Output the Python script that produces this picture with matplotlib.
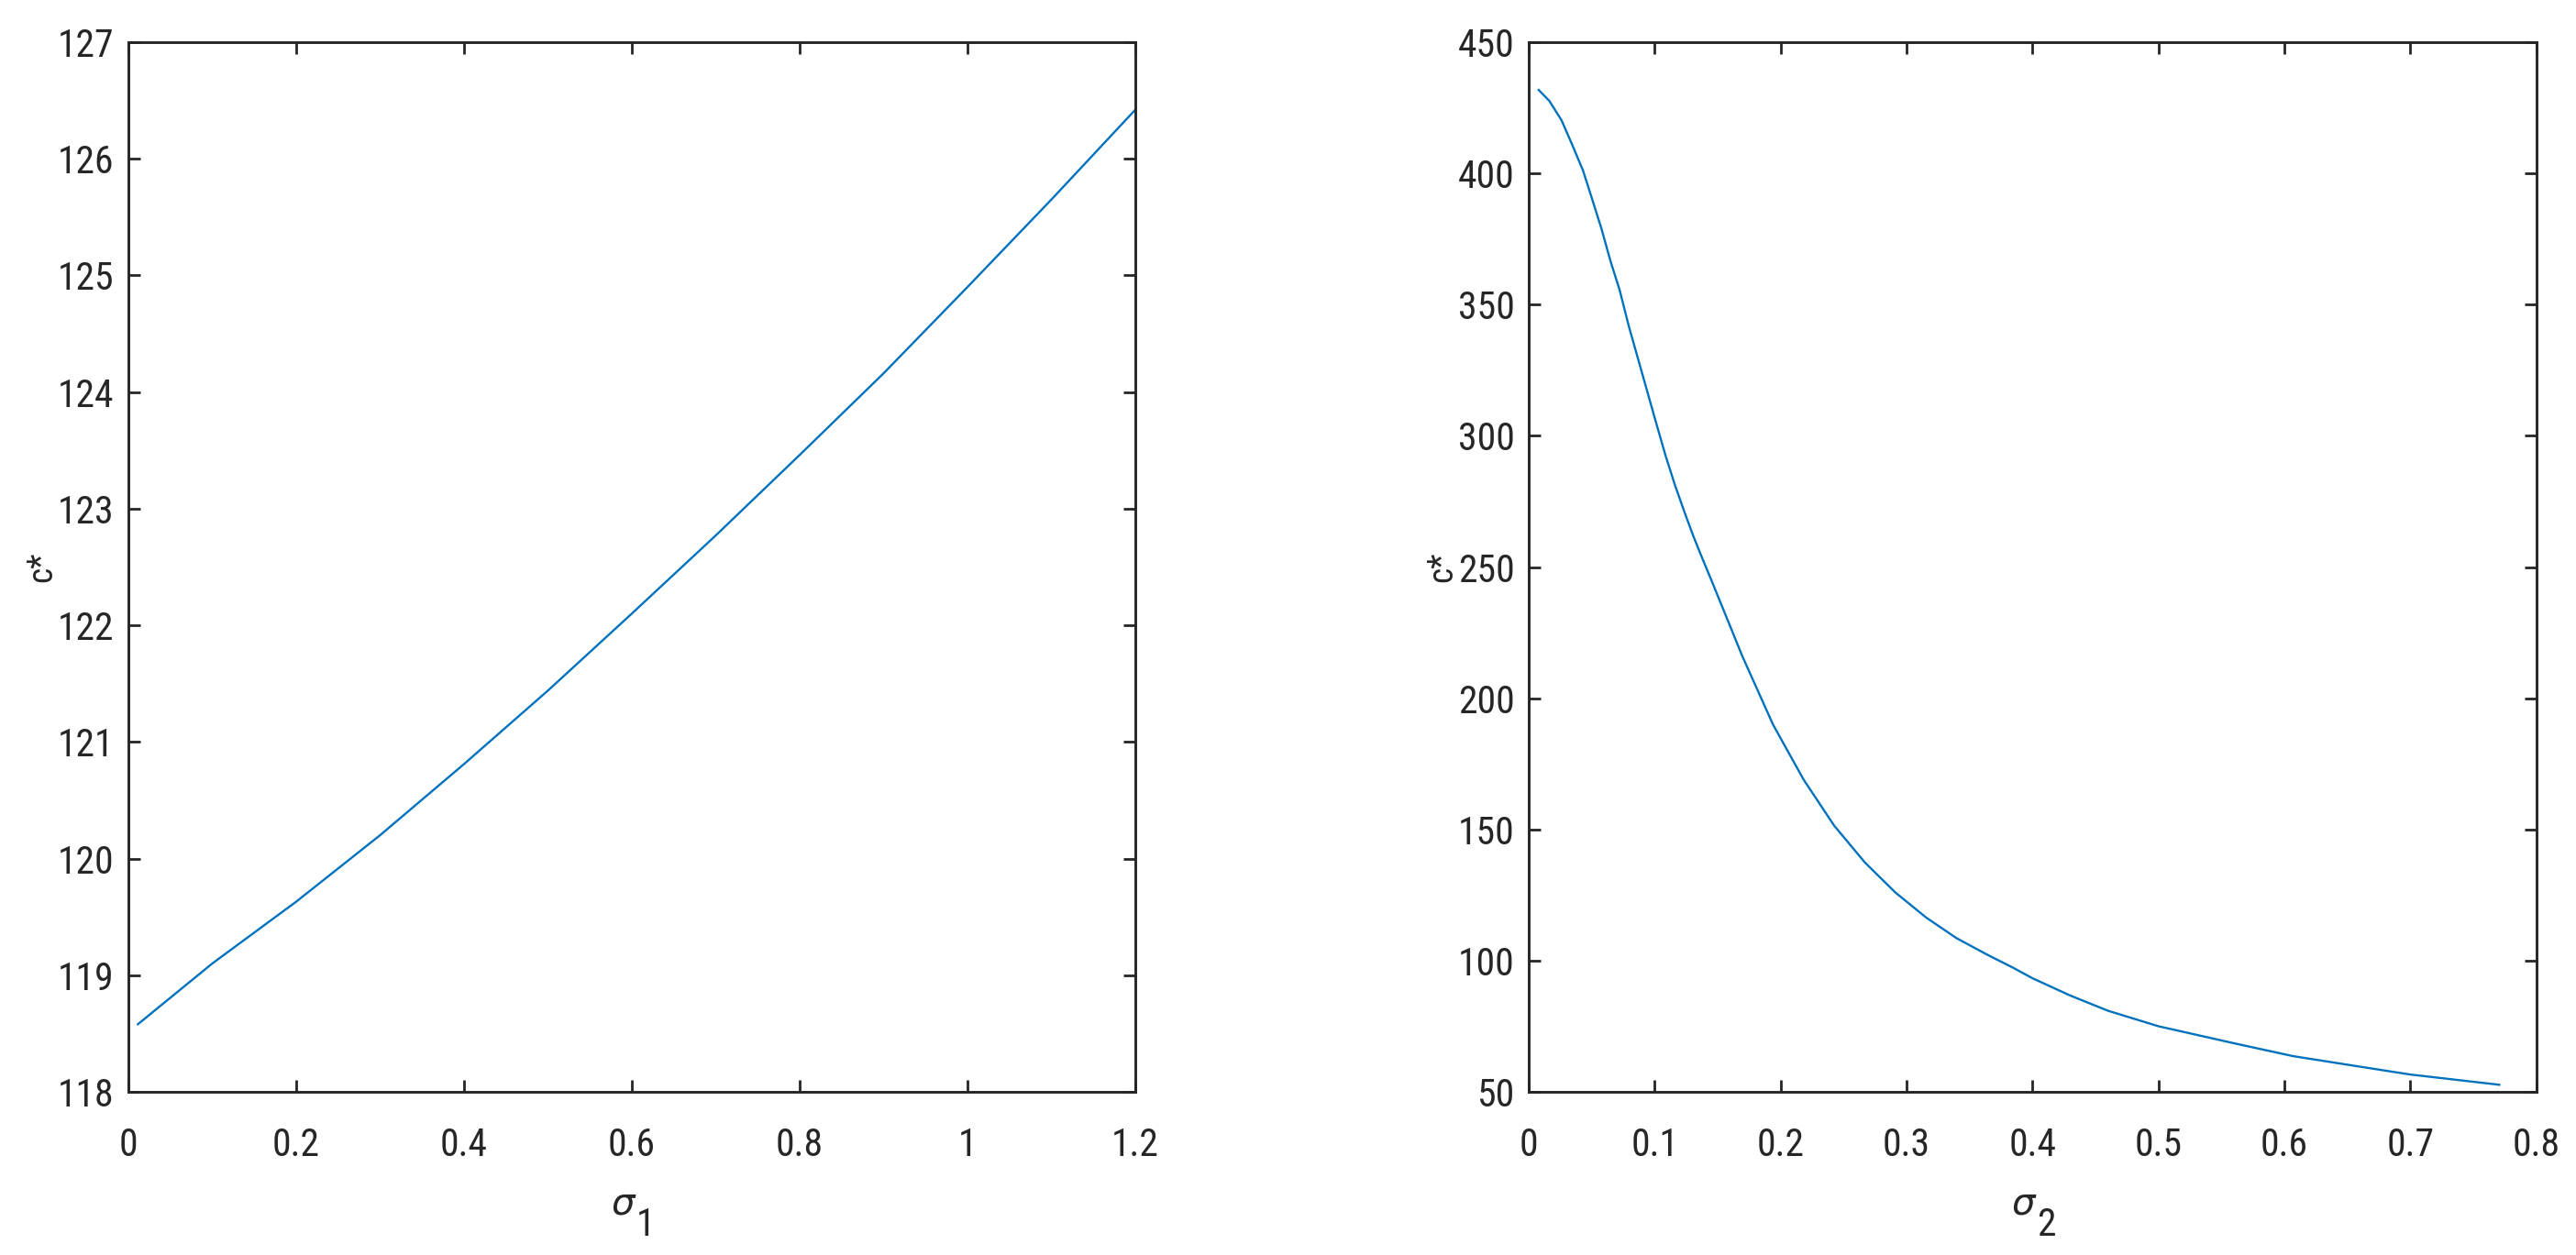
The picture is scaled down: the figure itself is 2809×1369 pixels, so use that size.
import matplotlib
matplotlib.use('Agg')
import matplotlib.pyplot as plt
from matplotlib.ticker import FuncFormatter

# values
sigma1 = [0.0115, 0.1, 0.2, 0.3, 0.4, 0.5, 0.6, 0.7, 0.8, 0.9, 1.0, 1.1, 1.2]
c_sigma1 = [118.58, 119.10, 119.63, 120.20, 120.81, 121.44, 122.10, 122.77,
            123.46, 124.16, 124.90, 125.65, 126.42]

sigma2 = [0.008, 0.0165, 0.0262, 0.0347, 0.0432, 0.0505, 0.0578, 0.065, 0.0723,
          0.0796, 0.0869, 0.0942, 0.1015, 0.1087, 0.116, 0.1233, 0.1306, 0.1379,
          0.1451, 0.1697, 0.194, 0.2183, 0.2425, 0.2668, 0.2911, 0.3154, 0.3396,
          0.364, 0.3846, 0.4, 0.43, 0.46, 0.5, 0.562, 0.607, 0.664, 0.7, 0.7706]
c_sigma2 = [431.8, 427.6, 420.2, 410.8, 401.1, 390.1, 379.0, 366.6, 355.5,
            341.7, 329.3, 316.9, 304.5, 292.5, 281.5, 271.5, 262.0, 253.3,
            245.0, 216.0, 190.0, 169.0, 151.5, 137.5, 126.0, 116.5, 108.6,
            102.3, 97.3, 93.3, 86.7, 80.9, 75.0, 68.3, 63.6, 59.3, 56.6, 52.7]

xticks1 = [0, 0.2, 0.4, 0.6, 0.8, 1.0, 1.2]
yticks1 = list(range(118, 128))
xticks2 = [0, 0.1, 0.2, 0.3, 0.4, 0.5, 0.6, 0.7, 0.8]
yticks2 = list(range(50, 451, 50))

plt.rcParams['font.family'] = ['Roboto Condensed', 'Liberation Sans', 'DejaVu Sans']

AX_COLOR = '#262626'
LINE_COLOR = '#0072BD'
FS = 30

fig = plt.figure(figsize=(28.09, 13.69), dpi=100)
ax1 = fig.add_axes([0.0498, 0.130, 0.3909, 0.8364])
ax2 = fig.add_axes([0.5934, 0.130, 0.3912, 0.8364])

fmt = FuncFormatter(lambda v, p: '%g' % v)


def style(ax, xt, yt, xlim, ylim, sub):
    ax.set_xlim(xlim)
    ax.set_ylim(ylim)
    ax.set_xticks(xt)
    ax.set_yticks(yt)
    ax.xaxis.set_major_formatter(fmt)
    ax.yaxis.set_major_formatter(fmt)
    ax.tick_params(direction='in', length=9.5, width=2.0, colors=AX_COLOR,
                   labelsize=FS, top=True, right=True)
    ax.tick_params(axis='x', pad=27.5)
    ax.tick_params(axis='y', pad=11)
    for s in ax.spines.values():
        s.set_linewidth(2.1)
        s.set_color(AX_COLOR)
    ax.set_ylabel('c*', fontsize=27, color=AX_COLOR)
    ax.yaxis.set_label_coords(-0.069, 0.5)
    # sigma with a full-size subscript, as in the original
    ax.text(0.503, -0.117, '\u03c3', transform=ax.transAxes, ha='right',
            va='baseline', fontsize=29, style='italic', color=AX_COLOR,
            family=['DejaVu Sans'])
    ax.text(0.504, -0.137, sub, transform=ax.transAxes, ha='left',
            va='baseline', fontsize=FS, color=AX_COLOR)


ax1.plot(sigma1, c_sigma1, color=LINE_COLOR, linewidth=1.7)
style(ax1, xticks1, yticks1, (0, 1.2), (118, 127), '1')

ax2.plot(sigma2, c_sigma2, color=LINE_COLOR, linewidth=1.7)
style(ax2, xticks2, yticks2, (0, 0.8), (50, 450), '2')

fig.savefig('out.png', dpi=100, facecolor='white')
